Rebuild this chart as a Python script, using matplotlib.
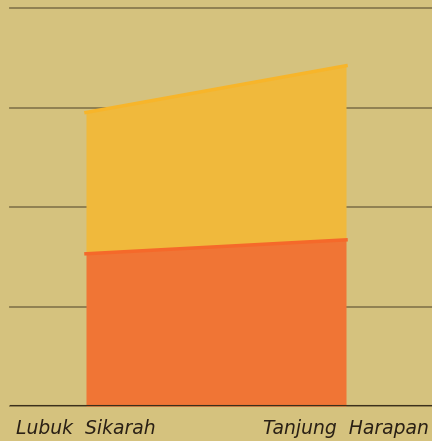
import matplotlib
matplotlib.use('Agg')
from matplotlib import pyplot as plt
import numpy as np

categories = ['Lubuk  Sikarah', 'Tanjung  Harapan']
lower = [153, 167]
upper = [142, 175]
y_ticks = [0, 100, 200, 300, 400]

bg = '#d5c27e'
fig = plt.figure(figsize=(4.32, 4.41), dpi=100, facecolor=bg)
ax = fig.add_axes([10/432, 35/441, 1 - 10/432, (406 - 8)/441])
ax.set_facecolor(bg)

x = np.arange(len(categories))
low = np.array(lower)
top = low + np.array(upper)

ax.fill_between(x, 0, low, color='#f07535', lw=0, zorder=2)
ax.fill_between(x, low, top, color='#f0b93c', lw=0, zorder=2)
ax.plot(x, low, color='#f5692a', lw=2.5, zorder=3)
ax.plot(x, top, color='#f7b52a', lw=2.5, zorder=3)

ax.set_xlim(-76/260, 1 + 86/260)
ax.set_ylim(0, 400)
ax.set_yticks(y_ticks)
ax.yaxis.grid(True, color='#8a7a4e', lw=1.3, zorder=1)
for gl in ax.get_ygridlines():
    gl.set_clip_on(False)
ax.set_axisbelow(True)
ax.axhline(0, color='#3b301c', lw=1.5, zorder=4)

ax.set_xticks(x)
ax.set_xticklabels(categories, fontsize=13.5, style='italic', color='#2a2015')
ax.tick_params(axis='x', length=0, pad=9)
ax.tick_params(axis='y', length=0, labelleft=False)
for s in ax.spines.values():
    s.set_visible(False)

fig.savefig('out.png', dpi=100, facecolor=bg)
